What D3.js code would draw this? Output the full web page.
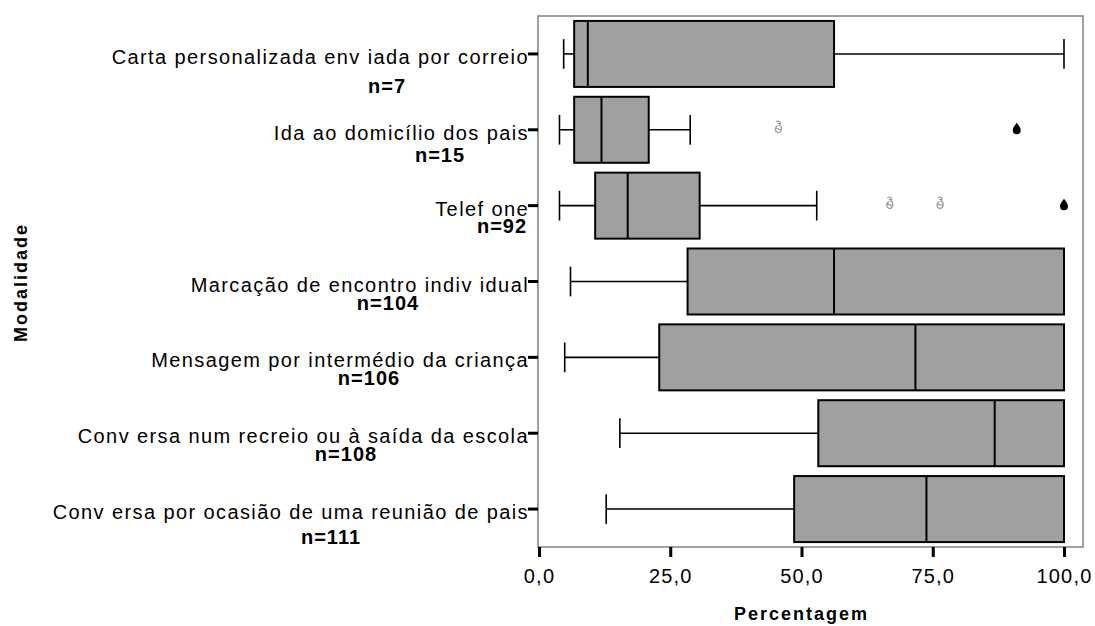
<!DOCTYPE html>
<html>
<head>
<meta charset="utf-8">
<script src="https://cdn.jsdelivr.net/npm/d3@7/dist/d3.min.js"></script>
<style>
  html, body { margin: 0; padding: 0; background: #fff; }
  svg { display: block; font-family: "Liberation Sans", Arial, sans-serif; }
</style>
</head>
<body>
<svg id="chart" width="1095" height="626"></svg>
<script>
// ---- data ----
const categories = [
  "Carta personalizada env iada por correio",
  "Ida ao domicílio dos pais",
  "Telef one",
  "Marcação de encontro indiv idual",
  "Mensagem por intermédio da criança",
  "Conv ersa num recreio ou à saída da escola",
  "Conv ersa por ocasião de uma reunião de pais"
];
const nCounts     = [7, 15, 92, 104, 106, 108, 111];
const whiskerLow  = [4.7, 3.9, 3.9, 6.0, 4.9, 15.4, 12.8];
const q1          = [6.7, 6.7, 10.7, 28.3, 22.9, 53.2, 48.6];
const median      = [9.3, 11.9, 16.9, 56.2, 71.7, 86.8, 73.8];
const q3          = [56.2, 20.9, 30.6, 100, 100, 100, 100];
const whiskerHigh = [100, 28.8, 52.9, 100, 100, 100, 100];
const outliers    = [[], [45.6], [66.8, 76.4], [], [], [], []];
const extremes    = [[], [91.0], [100], [], [], [], []];
const xTicks      = [0, 25, 50, 75, 100];
const xTitle = "Percentagem";
const yTitle = "Modalidade";

// ---- layout (not data) ----
const nLabelCenterX = [387, 440, 502, 388, 369, 346, 331];
const nLabelDy      = [39, 32, 27, 28, 28, 28, 35];

const svg = d3.select("#chart");
const frame = {left: 538, right: 1083, top: 16, bottom: 547};

const x = d3.scaleLinear().domain([0, 100]).range([539, 1064]);
const y = d3.scaleBand().domain(categories).range([frame.top, frame.bottom])
  .paddingInner(0.13).paddingOuter(0.065);

const rows = categories.map((c, i) => ({
  cat: c, n: nCounts[i], lo: whiskerLow[i], q1: q1[i], med: median[i],
  q3: q3[i], hi: whiskerHigh[i], out: outliers[i], ext: extremes[i], i
}));

// frame
svg.append("rect")
  .attr("x", frame.left).attr("y", frame.top)
  .attr("width", frame.right - frame.left).attr("height", frame.bottom - frame.top)
  .attr("fill", "none").attr("stroke", "#808080").attr("stroke-width", 1.5);

const bw = y.bandwidth();
const capH = bw * 0.45;

const g = svg.append("g");
rows.forEach(r => {
  const cy = y(r.cat) + bw / 2;
  const gg = g.append("g");
  if (r.lo < r.q1) {
    gg.append("line").attr("x1", x(r.lo)).attr("x2", x(r.q1)).attr("y1", cy).attr("y2", cy)
      .attr("stroke", "#000").attr("stroke-width", 1.6);
    gg.append("line").attr("x1", x(r.lo)).attr("x2", x(r.lo)).attr("y1", cy - capH/2).attr("y2", cy + capH/2)
      .attr("stroke", "#000").attr("stroke-width", 1.6);
  }
  if (r.hi > r.q3) {
    gg.append("line").attr("x1", x(r.q3)).attr("x2", x(r.hi)).attr("y1", cy).attr("y2", cy)
      .attr("stroke", "#000").attr("stroke-width", 1.6);
    gg.append("line").attr("x1", x(r.hi)).attr("x2", x(r.hi)).attr("y1", cy - capH/2).attr("y2", cy + capH/2)
      .attr("stroke", "#000").attr("stroke-width", 1.6);
  }
  gg.append("rect")
    .attr("x", x(r.q1)).attr("y", y(r.cat))
    .attr("width", x(r.q3) - x(r.q1)).attr("height", bw)
    .attr("fill", "#a0a0a0").attr("stroke", "#000").attr("stroke-width", 2);
  gg.append("line").attr("x1", x(r.med)).attr("x2", x(r.med))
    .attr("y1", y(r.cat)).attr("y2", y(r.cat) + bw)
    .attr("stroke", "#000").attr("stroke-width", 2);
  // outliers (grey glyph)
  r.out.forEach(v => {
    const o = gg.append("g").attr("transform", `translate(${x(v)},${cy - 2})`);
    o.append("path")
      .attr("d", "M-2.5,-6 C0,-7.5 3.5,-6 1,-2.5 C4,-1.5 4,4 0,5 C-4,4 -4,-0.5 -0.5,-2 M-2.5,0.5 L3,2 M-1,-4 L1.5,-4.5")
      .attr("fill", "none").attr("stroke", "#9a9a9a").attr("stroke-width", 1.2);
  });
  // extremes (black drop)
  r.ext.forEach(v => {
    gg.append("path")
      .attr("transform", `translate(${x(v)},${cy - 1})`)
      .attr("d", "M0,-6 C1.5,-3.5 4,-1.5 4,1.5 A4,4 0 1,1 -4,1.5 C-4,-1.5 -1.5,-3.5 0,-6 Z")
      .attr("fill", "#000");
  });
});

// x axis
const xAxis = d3.axisBottom(x).tickValues(xTicks).tickSize(10)
  .tickFormat(d => d.toFixed(1).replace(".", ","));
const gx = svg.append("g").attr("transform", `translate(0,${frame.bottom})`).call(xAxis);
gx.select(".domain").remove();
gx.selectAll(".tick line").attr("stroke", "#000").attr("stroke-width", 3);
gx.selectAll(".tick text")
  .attr("y", 36).attr("dy", 0)
  .style("font-family", "'Liberation Sans', Arial, sans-serif")
  .style("font-size", "20px").style("letter-spacing", "1.2px").attr("fill", "#000");

// y axis
const yAxis = d3.axisLeft(y).tickSize(10).tickFormat(d => d);
const gy = svg.append("g").attr("transform", `translate(${frame.left},0)`).call(yAxis);
gy.select(".domain").remove();
gy.selectAll(".tick line").attr("stroke", "#000").attr("stroke-width", 3);
gy.selectAll(".tick text")
  .attr("x", -9).attr("dy", 0).attr("y", 10)
  .style("font-family", "'Liberation Sans', Arial, sans-serif")
  .style("font-size", "20px").style("letter-spacing", "1.4px").attr("fill", "#000");

// n labels
rows.forEach(r => {
  svg.append("text")
    .attr("x", nLabelCenterX[r.i]).attr("y", y(r.cat) + bw / 2 + nLabelDy[r.i])
    .attr("text-anchor", "middle")
    .style("font-size", "20px").style("font-weight", "bold").style("letter-spacing", "1px")
    .text("n=" + r.n);
});

// titles
svg.append("text")
  .attr("x", (x(0) + x(100)) / 2).attr("y", 620)
  .attr("text-anchor", "middle")
  .style("font-size", "18px").style("font-weight", "bold").style("letter-spacing", "2px")
  .text(xTitle);
svg.append("text")
  .attr("transform", `translate(27,${(frame.top + frame.bottom) / 2 + 1}) rotate(-90)`)
  .attr("text-anchor", "middle")
  .style("font-size", "18px").style("font-weight", "bold").style("letter-spacing", "2px")
  .text(yTitle);
</script>
</body>
</html>
